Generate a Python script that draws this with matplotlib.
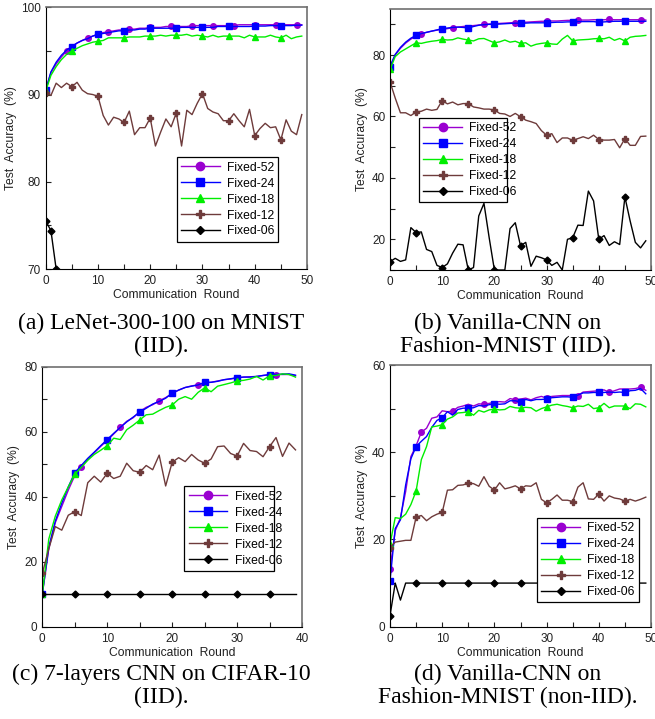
import numpy as np
import matplotlib
matplotlib.use("Agg")
import matplotlib.pyplot as plt
from matplotlib.ticker import MultipleLocator

plt.rcParams['font.family'] = ['Liberation Sans', 'DejaVu Sans']

labels = ["Fixed-52", "Fixed-24", "Fixed-18", "Fixed-12", "Fixed-06"]
colors = ["#9A00D0", "#0000FF", "#00EE00", "#6E3B3B", "#000000"]
markers = ["o", "s", "^", "P", "D"]

# (a) LeNet-300-100 on MNIST (IID)
a_52 = [90.5, 92.5, 93.5, 94.3, 95.0, 95.5, 95.9, 96.2, 96.5, 96.7, 96.9, 97.1, 97.2, 97.3, 97.4,
        97.4, 97.5, 97.5, 97.6, 97.6, 97.7, 97.7, 97.7, 97.8, 97.8, 97.8, 97.8, 97.8, 97.9, 97.9,
        97.9, 97.9, 97.9, 97.9, 97.9, 97.9, 97.9, 98.0, 98.0, 98.0, 98.0, 98.0, 98.0, 98.0, 98.0,
        98.0, 98.0, 98.0, 98.0, 98.0]
a_24 = [90.5, 92.6, 93.7, 94.5, 95.1, 95.5, 95.9, 96.2, 96.4, 96.7, 96.9, 97.0, 97.1, 97.2, 97.3,
        97.3, 97.4, 97.4, 97.5, 97.5, 97.6, 97.6, 97.6, 97.6, 97.6, 97.6, 97.7, 97.7, 97.7, 97.7,
        97.7, 97.7, 97.7, 97.8, 97.8, 97.8, 97.8, 97.8, 97.8, 97.8, 97.85, 97.85, 97.85, 97.9, 97.9,
        97.9, 97.9, 97.9, 97.95, 97.95]
a_18 = [90.4, 92.2, 93.2, 94.0, 94.6, 95.0, 95.3, 95.6, 95.8, 96.0, 96.1, 96.2, 96.5, 96.5, 96.5,
        96.5, 96.6, 96.6, 96.6, 96.7, 96.7, 96.7, 96.8, 96.7, 96.8, 96.8, 96.8, 96.9, 96.7, 96.8,
        96.7, 96.6, 96.8, 96.6, 96.7, 96.7, 96.7, 96.7, 96.5, 96.8, 96.6, 96.6, 96.6, 96.8, 96.6,
        96.5, 96.8, 96.4, 96.6, 96.7]
a_12 = [90.2, 89.9, 91.3, 90.8, 91.3, 90.9, 91.4, 90.5, 90.1, 90.0, 89.8, 87.6, 86.5, 87.4, 87.2,
        86.8, 88.1, 85.4, 86.2, 86.2, 87.3, 84.1, 85.7, 87.2, 86.3, 87.9, 84.1, 88.2, 87.7, 89.0,
        90.1, 88.4, 88.0, 87.8, 87.0, 87.0, 87.8, 87.0, 86.3, 88.3, 85.3, 86.1, 86.7, 86.2, 86.3,
        84.8, 87.1, 85.8, 85.4, 87.7]
a_06 = [75.5, 74.4, 70.0] + [10.0] * 47

# (b) Vanilla-CNN on Fashion-MNIST (IID)
b_52 = [76.4, 80.0, 82.2, 83.9, 85.2, 86.1, 86.9, 87.4, 87.8, 88.1, 88.4, 88.6, 88.9, 89.1, 89.3,
        89.5, 89.6, 89.8, 90.0, 90.1, 90.2, 90.3, 90.4, 90.5, 90.6, 90.7, 90.7, 90.8, 90.9, 91.0,
        91.0, 91.1, 91.1, 91.2, 91.3, 91.3, 91.4, 91.4, 91.4, 91.5, 91.5, 91.5, 91.6, 91.5, 91.5,
        91.6, 91.5, 91.5, 91.5, 91.4]
b_24 = [76.2, 80.2, 82.5, 84.2, 85.5, 86.4, 87.0, 87.4, 87.8, 88.2, 88.6, 88.8, 89.0, 89.1, 89.0,
        88.8, 89.3, 89.7, 89.9, 90.0, 90.0, 90.1, 90.2, 90.3, 90.4, 90.3, 90.4, 90.5, 90.5, 90.5,
        90.5, 90.6, 90.7, 90.7, 90.8, 90.8, 90.9, 90.9, 90.9, 90.9, 90.7, 90.8, 90.9, 91.0, 91.0,
        91.1, 91.0, 91.0, 91.0, 91.0]
b_18 = [75.3, 79.5, 81.0, 82.0, 83.0, 84.0, 83.8, 84.2, 84.5, 84.7, 85.1, 84.9, 85.0, 85.6, 85.2,
        84.9, 84.6, 85.3, 85.4, 84.7, 84.0, 84.3, 84.9, 84.2, 84.5, 83.8, 84.0, 82.9, 83.5, 83.8,
        84.0, 83.6, 83.5, 85.2, 86.4, 84.6, 84.9, 85.0, 85.1, 85.3, 85.4, 85.3, 85.8, 84.8, 85.4,
        84.6, 85.8, 86.1, 86.2, 86.4]
b_12 = [71.3, 66.0, 61.2, 61.2, 60.3, 61.5, 61.7, 62.4, 62.0, 62.3, 65.2, 64.1, 64.7, 63.8, 64.2,
        64.2, 63.1, 62.8, 62.4, 62.4, 62.1, 61.0, 60.8, 60.0, 61.0, 59.9, 58.8, 58.3, 57.7, 55.4,
        53.9, 54.4, 51.5, 53.0, 53.0, 52.2, 52.8, 53.4, 52.8, 53.9, 52.5, 52.3, 52.3, 52.5, 49.8,
        52.8, 50.6, 50.6, 53.5, 53.6]
b_06 = [12.7, 13.8, 12.8, 13.3, 23.8, 22.2, 22.4, 16.7, 16.0, 11.5, 10.8, 12.0, 15.5, 18.4, 18.2,
        10.0, 10.8, 27.6, 31.7, 20.5, 10.0, 10.0, 10.0, 23.5, 25.4, 17.9, 19.0, 11.2, 14.5, 14.0,
        13.3, 11.5, 12.5, 10.0, 20.0, 20.5, 24.6, 24.5, 35.7, 32.5, 20.0, 21.2, 18.0, 19.2, 18.3,
        33.8, 26.0, 19.0, 17.2, 19.5]

# (c) 7-layers CNN on CIFAR-10 (IID)
c_52 = [10.0, 24.0, 32.0, 37.0, 42.0, 46.5, 49.2, 51.5, 53.5, 55.5, 57.3, 59.3, 61.3, 63.2, 64.3,
        66.2, 67.5, 68.3, 69.5, 70.5, 71.7, 72.8, 73.6, 74.1, 74.4, 75.0, 75.2, 75.6, 76.0, 76.2,
        76.6, 76.8, 76.9, 77.0, 77.3, 77.5, 77.6, 77.6, 77.6, 77.2]
c_24 = [10.0, 24.5, 32.5, 38.0, 43.0, 47.4, 49.6, 51.8, 53.7, 55.7, 57.6, 59.5, 61.3, 63.0, 64.5,
        66.0, 67.2, 68.5, 69.3, 70.3, 71.9, 72.8, 73.6, 74.0, 74.4, 75.2, 75.2, 75.5, 76.0, 76.3,
        76.6, 76.8, 76.8, 77.0, 77.3, 77.6, 77.6, 77.7, 77.8, 77.4]
c_18 = [10.0, 27.0, 34.0, 39.0, 43.0, 46.9, 49.0, 51.2, 53.0, 54.3, 55.7, 58.0, 57.6, 60.6, 62.0,
        63.6, 65.2, 65.4, 66.5, 67.5, 68.2, 70.0, 70.8, 70.0, 72.1, 73.5, 72.3, 74.0, 74.5, 75.0,
        75.6, 75.8, 76.2, 77.0, 75.9, 77.2, 77.3, 77.8, 77.6, 76.8]
c_12 = [16.4, 24.0, 30.8, 29.7, 34.3, 35.4, 34.2, 44.3, 46.3, 44.5, 47.2, 45.6, 46.3, 50.3, 48.0,
        47.5, 49.6, 48.3, 52.8, 43.3, 50.6, 52.0, 50.8, 53.0, 51.3, 50.3, 51.6, 55.4, 55.6, 53.3,
        52.5, 56.4, 54.2, 53.9, 52.3, 55.4, 58.2, 52.4, 56.5, 54.4]
c_06 = [10.0] * 40

# (d) Vanilla-CNN on Fashion-MNIST (non-IID)
d_52 = [13.2, 22.0, 25.0, 31.0, 39.0, 41.5, 44.6, 45.5, 47.8, 48.1, 49.5, 49.3, 49.4, 50.3, 50.6,
        51.0, 50.6, 51.1, 51.0, 51.2, 51.5, 51.6, 51.5, 52.3, 52.0, 52.2, 52.4, 52.0, 52.5, 52.8,
        52.4, 52.8, 52.9, 53.0, 53.0, 53.0, 53.0, 53.8, 53.9, 54.0, 54.1, 54.3, 53.7, 54.1, 54.5,
        54.5, 54.5, 54.6, 54.9, 54.2]
d_24 = [10.5, 22.5, 24.5, 32.5, 38.5, 41.3, 42.5, 43.6, 45.7, 47.3, 47.9, 49.3, 48.5, 49.8, 50.1,
        50.1, 50.2, 50.7, 50.6, 50.9, 51.1, 51.0, 51.1, 51.8, 51.8, 51.5, 52.1, 51.8, 52.1, 52.1,
        52.2, 52.5, 52.6, 52.7, 52.7, 52.6, 53.1, 53.6, 53.6, 53.7, 53.7, 53.7, 53.8, 53.7, 53.8,
        53.7, 54.1, 54.2, 54.6, 53.4]
d_18 = [18.9, 25.0, 24.8, 25.8, 28.0, 31.1, 38.3, 41.3, 45.8, 46.0, 46.3, 47.6, 48.1, 49.0, 49.1,
        49.3, 48.5, 49.6, 49.2, 49.7, 49.9, 49.7, 49.8, 50.5, 50.2, 50.1, 50.3, 50.2, 49.4, 50.0,
        50.4, 50.8, 51.0, 50.7, 50.5, 50.2, 50.6, 50.5, 51.0, 50.0, 50.2, 51.2, 50.2, 50.6, 50.6,
        50.6, 50.0, 51.1, 51.0, 50.4]
d_12 = [18.1, 19.4, 19.6, 19.8, 19.8, 25.1, 25.5, 24.3, 25.2, 25.8, 26.2, 31.3, 31.4, 32.4, 32.5,
        32.9, 32.8, 32.2, 34.4, 32.2, 31.3, 33.0, 31.6, 31.9, 32.3, 31.6, 32.3, 32.2, 33.0, 29.2,
        28.4, 29.2, 30.2, 29.0, 29.0, 28.7, 32.0, 33.0, 29.3, 29.2, 30.4, 28.8, 30.0, 29.5, 29.3,
        28.8, 29.2, 28.8, 29.2, 29.7]
d_06 = [2.5, 10.0, 6.1] + [10.0] * 47

panels = [
    dict(series=[a_52, a_24, a_18, a_12, a_06], every=[4, 5, 5, 5, 1],
         pos=[45.7, 7.3, 307.0, 269.0], xlim=(0, 50), ylim=(70, 100), ymaj=10, ymin=5,
         leg=(0.501, 0.111, 0.389, 0.309),
         cap="(a) LeNet-300-100 on MNIST\n(IID).", capx=161, capy=335),
    dict(series=[b_52, b_24, b_18, b_12, b_06], every=[6, 5, 5, 5, 5],
         pos=[390.0, 9.0, 651.0, 270.0], xlim=(0, 50), ylim=(10, 95), ymaj=20, ymin=10,
         leg=(0.111, 0.259, 0.338, 0.326),
         cap="(b) Vanilla-CNN on\nFashion-MNIST (IID).", capx=508, capy=335),
    dict(series=[c_52, c_24, c_18, c_12, c_06], every=[6, 5, 5, 5, 5],
         pos=[42.3, 366.7, 302.0, 626.7], xlim=(0, 40), ylim=(0, 80), ymaj=20, ymin=10,
         leg=(0.547, 0.214, 0.345, 0.327),
         cap="(c) 7-layers CNN on CIFAR-10\n(IID).", capx=161, capy=686),
    dict(series=[d_52, d_24, d_18, d_12, d_06], every=[6, 5, 5, 5, 5],
         pos=[390.0, 365.0, 651.0, 626.7], xlim=(0, 50), ylim=(0, 60), ymaj=20, ymin=10,
         leg=(0.564, 0.092, 0.391, 0.325),
         cap="(d) Vanilla-CNN on\nFashion-MNIST (non-IID).", capx=508, capy=686),
]

leg_ms = {"o": 6, "s": 6, "^": 6, "P": 6, "D": 4.5}

W, H = 655, 719
fig = plt.figure(figsize=(W / 100, H / 100), dpi=100)

for p in panels:
    x0, y0, x1, y1 = p['pos']
    ax = fig.add_axes([x0 / W, 1 - y1 / H, (x1 - x0) / W, (y1 - y0) / H])
    for vals, lab, col, mk, ev in zip(p['series'], labels, colors, markers, p['every']):
        rounds = np.arange(len(vals))
        ms = 4.5 if mk == "P" else 4
        if mk == "D":
            ms = 3.5
        ax.plot(rounds, vals, color=col, lw=1.0, marker=mk, markersize=ms,
                markevery=ev, label=lab)
    ax.set_xlim(*p['xlim'])
    ax.set_ylim(*p['ylim'])
    ax.xaxis.set_major_locator(MultipleLocator(10))
    ax.xaxis.set_minor_locator(MultipleLocator(5))
    ax.yaxis.set_major_locator(MultipleLocator(p['ymaj']))
    ax.yaxis.set_minor_locator(MultipleLocator(p['ymin']))
    ax.tick_params(which='both', direction='in', length=3.5, width=0.8, labelsize=8.5,
                   colors='#222222')
    ax.tick_params(axis='x', pad=4.5)
    ax.set_xlabel("Communication  Round", fontsize=8.7, labelpad=1.5, color='#222222')
    ax.set_ylabel("Test  Accuracy  (%)", fontsize=8.7, labelpad=3, color='#222222')
    for s in ['left', 'bottom']:
        ax.spines[s].set_color('black')
        ax.spines[s].set_linewidth(0.8)
    for s in ['top', 'right']:
        ax.spines[s].set_color('#707070')
        ax.spines[s].set_linewidth(1.2)

    leg = ax.legend(loc='center', bbox_to_anchor=p['leg'], mode='expand',
                    fontsize=8.7, frameon=True, fancybox=False, framealpha=1,
                    edgecolor='black', borderaxespad=0, handlelength=3.2,
                    handletextpad=0.6, labelspacing=0.33, borderpad=0.35)
    leg.get_frame().set_linewidth(0.9)
    for h, mk in zip(leg.legend_handles, markers):
        h.set_markersize(leg_ms[mk])

    fig.text(p['capx'] / W, 1 - p['capy'] / H, p['cap'], ha='center', va='center',
             family=['Liberation Serif', 'DejaVu Serif'], fontsize=17, linespacing=1.12)

fig.savefig("out.png", dpi=100)
